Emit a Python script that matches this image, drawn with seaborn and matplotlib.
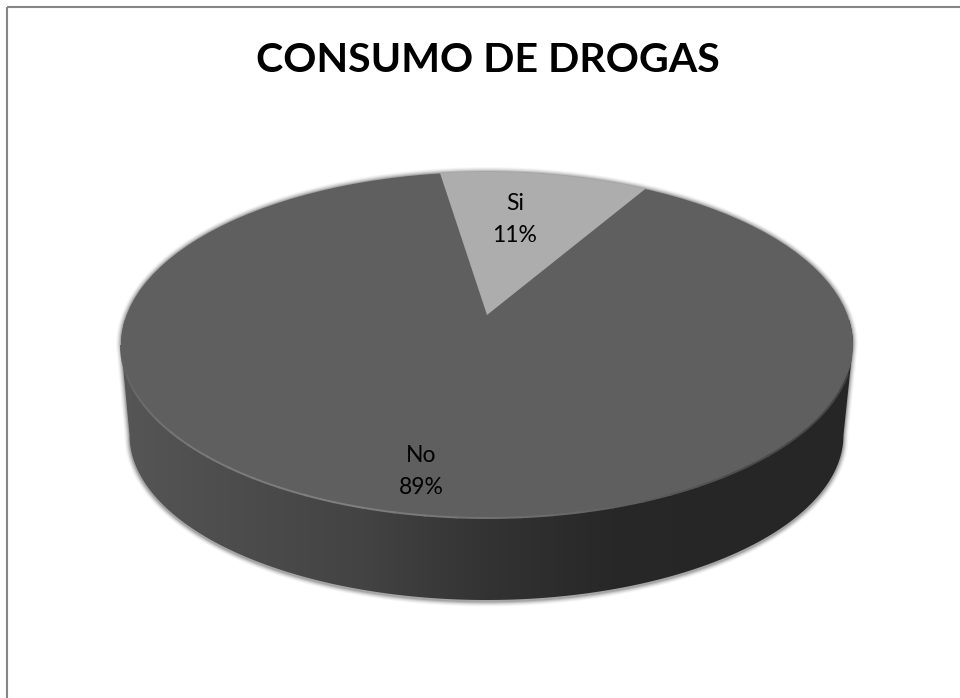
"""Pseudo-3D pie chart: CONSUMO DE DROGAS."""

import matplotlib

matplotlib.use("Agg")
import matplotlib.pyplot as plt
import numpy as np
import seaborn as sns
from matplotlib.patches import Arc, Circle, Polygon

categories = ["Si", "No"]
values = [11, 89]
slice_colors = ["#adadad", "#5f5f5f"]
title_text = "CONSUMO DE DROGAS"

WIDTH, HEIGHT = 960, 698
# top face of the disc in pixels
CX, CY, RX, RY = 487, 345, 366, 173
# rim at the bottom of the wall, a bit smaller because of the perspective
BOT_CX, BOT_CY, BOT_RX, BOT_RY = 486.5, 435, 357, 165
APEX_Y = 315


def px(x, y):
    """Pixel position to the data units where the top face is the unit circle."""
    return (np.asarray(x) - CX) / RX, (CY - np.asarray(y)) / RY


def body_outline(grow=0.0, drop=0.0):
    t = np.linspace(0, np.pi, 200)
    up_x = CX + (RX + grow) * np.cos(t)
    up_y = CY - (RY + grow) * np.sin(t)
    low_x = BOT_CX + (BOT_RX + grow) * np.cos(t + np.pi)
    low_y = BOT_CY + drop - (BOT_RY + grow) * np.sin(t + np.pi)
    return np.column_stack(px(np.r_[up_x, low_x], np.r_[up_y, low_y]))


sns.set_theme(style="white")
plt.rcParams["font.family"] = ["Lato", "DejaVu Sans"]

fig = plt.figure(figsize=(WIDTH / 100, HEIGHT / 100), dpi=100, facecolor="white")
ax = fig.add_axes([0, 0, 1, 1])

# soft shadow under the wall
for grow, alpha in zip([5, 4, 3, 2, 1], [0.03, 0.05, 0.07, 0.10, 0.14]):
    ax.add_patch(Polygon(body_outline(grow, 1.5), closed=True, fc="black", ec="none", alpha=alpha, zorder=1))

# wall, horizontal gradient clipped to the disc outline
wall_cmap = sns.blend_palette(
    ["#565656", "#4c4c4c", "#434343", "#333333", "#282828", "#262626", "#262626"],
    as_cmap=True,
)
x0, _ = px(BOT_CX - BOT_RX - 12, 0)
x1, _ = px(BOT_CX + BOT_RX + 12, 0)
_, y0 = px(0, 620)
_, y1 = px(0, 320)
wall = ax.imshow(
    np.linspace(0, 1, 256).reshape(1, -1),
    extent=(x0, x1, y0, y1),
    cmap=wall_cmap,
    aspect="auto",
    zorder=2,
)
wall.set_clip_path(Polygon(body_outline(), closed=True, transform=ax.transData))

# top face: the centre sits above the middle of the ellipse, so the wedges are
# oversized and clipped to the ellipse
apex = px(CX, APEX_Y)
wedges, _ = ax.pie(values, colors=slice_colors, startangle=59.3, center=apex, radius=1.6)
clip = Circle((0, 0), 1, transform=ax.transData)
for wedge, color in zip(wedges, slice_colors):
    wedge.set_zorder(3)
    wedge.set_edgecolor("none")
    wedge.set_clip_on(True)
    wedge.set_clip_path(clip)

# bevel along the front rim, light on the left and dark on the right
rim_angles = np.arange(180, 350, 5)
rim_colors = sns.blend_palette(["#5f5f5f", "#787878", "#808080", "#6a6a6a", "#4a4a4a", "#454545"], len(rim_angles))
for start, color in zip(rim_angles, rim_colors):
    ax.add_patch(Arc((0, 0), 2, 2, theta1=start, theta2=start + 5.5, color=color, lw=1.4, zorder=4))

# aspect reset, pie() forces it to equal
ax.set_aspect("auto")
left, top = px(0, 0)
right, bottom = px(WIDTH, HEIGHT)
ax.set_xlim(left, right)
ax.set_ylim(bottom, top)
ax.axis("off")

label_pos = {"Si": (515, 219.5), "No": (421, 471.5)}
for name, value in zip(categories, values):
    lx, ly = px(*label_pos[name])
    ax.text(lx, ly, f"{name}\n{value}%", ha="center", va="center", fontsize=16.5, color="black",
            linespacing=1.65, zorder=5)

tx, ty = px(488, 60)
ax.text(tx, ty, title_text, ha="center", va="center", fontsize=29.6, fontweight="bold", color="black", zorder=5)

# chart frame, only top and left are inside the crop
fx0, fy0 = px(7, 7)
fx1, fy1 = px(WIDTH, HEIGHT)
ax.plot([fx0, fx0], [fy1, fy0], color="#868686", lw=1.5, zorder=5, solid_capstyle="butt", clip_on=False)
ax.plot([fx0, fx1], [fy0, fy0], color="#868686", lw=1.5, zorder=5, solid_capstyle="butt", clip_on=False)

fig.savefig("out.png", dpi=100, facecolor="white")
